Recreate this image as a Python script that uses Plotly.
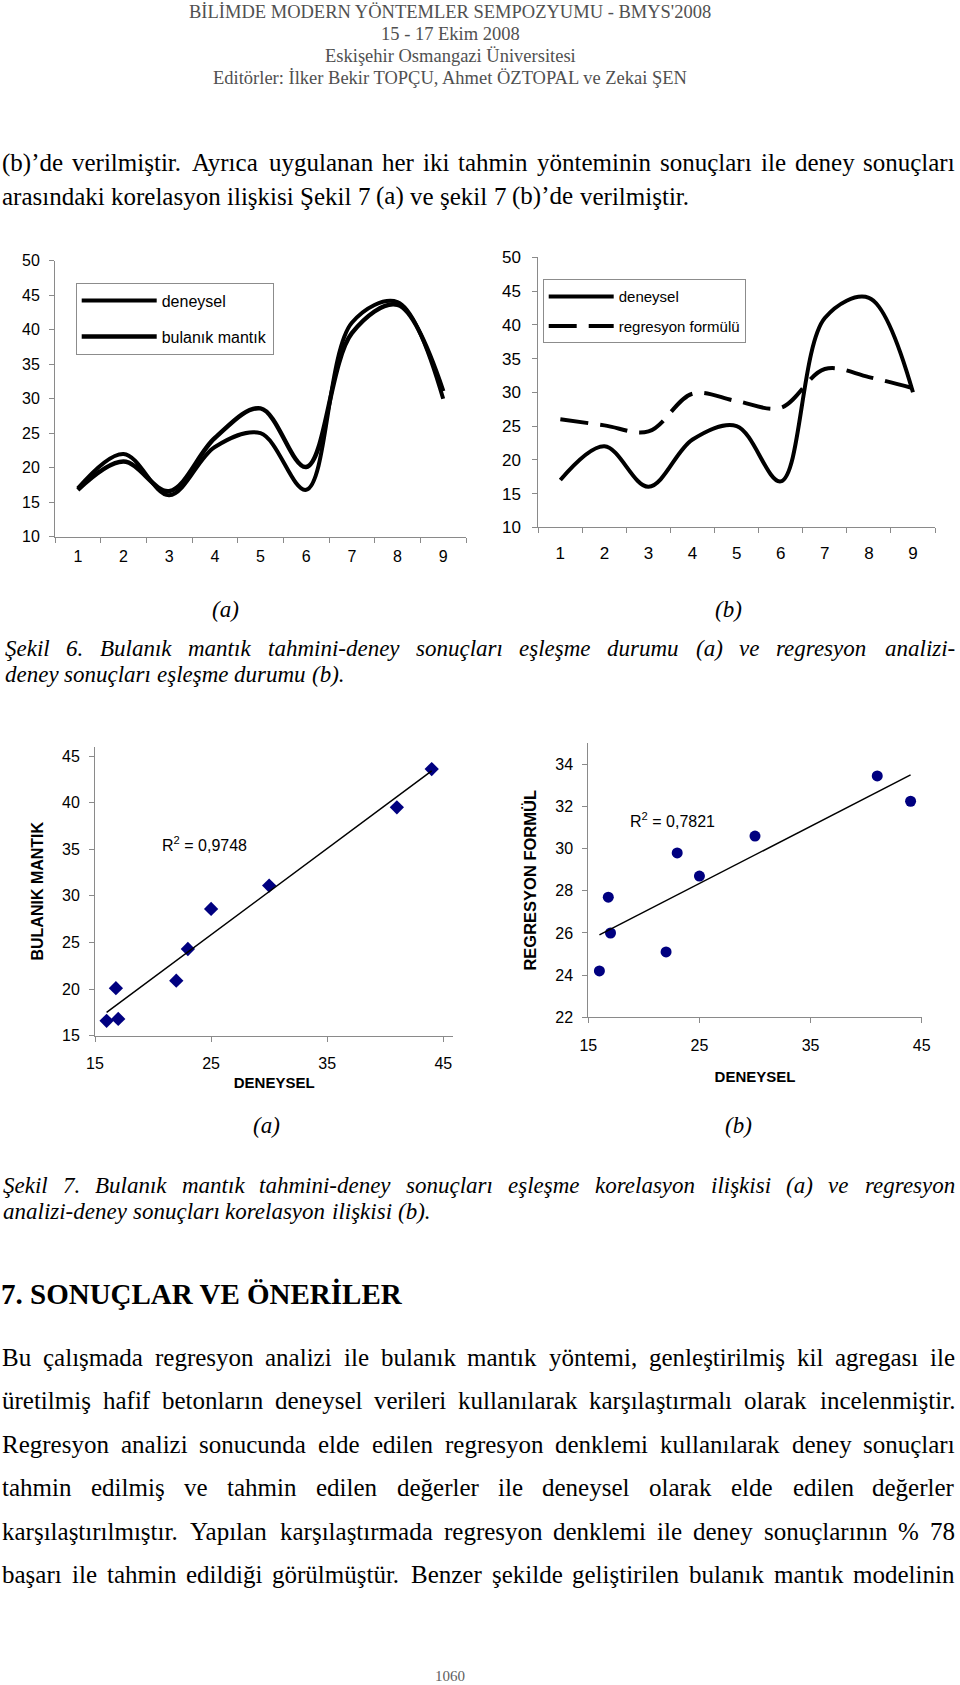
import numpy as np
import plotly.graph_objects as go

W, H = 960, 1685

# ---------------- data ----------------
categories = ["1", "2", "3", "4", "5", "6", "7", "8", "9"]
deneysel = [17, 22, 16, 23, 25, 16.8, 41, 44, 30]
bulanik_mantik = [16.8, 20.9, 16.6, 24.3, 28.6, 20.1, 39.5, 43.6, 31.1]
regresyon_formulu = [26.0, 25.1, 24.2, 29.8, 28.7, 27.7, 33.45, 32.25, 30.6]

r2_bulanik = "0,9748"
r2_regresyon = "0,7821"

line_y_ticks = [10, 15, 20, 25, 30, 35, 40, 45, 50]
scatter_a_x_ticks = [15, 25, 35, 45]
scatter_a_y_ticks = [15, 20, 25, 30, 35, 40, 45]
scatter_b_x_ticks = [15, 25, 35, 45]
scatter_b_y_ticks = [22, 24, 26, 28, 30, 32, 34]

# ---------------- page text ----------------
header_lines = [
    "BİLİMDE MODERN YÖNTEMLER SEMPOZYUMU - BMYS'2008",
    "15 - 17 Ekim 2008",
    "Eskişehir Osmangazi Üniversitesi",
    "Editörler: İlker Bekir TOPÇU, Ahmet ÖZTOPAL ve Zekai ŞEN",
]
intro_lines = [
    ("(b)’de verilmiştir. Ayrıca uygulanan her iki tahmin yönteminin sonuçları ile deney sonuçları", True),
    ("arasındaki korelasyon ilişkisi Şekil 7 (a) ve şekil 7 (b)’de verilmiştir.", False),
]
caption6_lines = [
    ("Şekil 6. Bulanık mantık tahmini-deney sonuçları eşleşme durumu (a) ve regresyon analizi-", True),
    ("deney sonuçları eşleşme durumu (b).", False),
]
caption7_lines = [
    ("Şekil 7. Bulanık mantık tahmini-deney sonuçları eşleşme korelasyon ilişkisi (a) ve regresyon", True),
    ("analizi-deney sonuçları korelasyon ilişkisi (b).", False),
]
heading = "7. SONUÇLAR VE ÖNERİLER"
body_lines = [
    ("Bu çalışmada regresyon analizi ile bulanık mantık yöntemi, genleştirilmiş kil agregası ile", True),
    ("üretilmiş hafif betonların deneysel verileri kullanılarak karşılaştırmalı olarak incelenmiştir.", True),
    ("Regresyon analizi sonucunda elde edilen regresyon denklemi kullanılarak deney sonuçları", True),
    ("tahmin edilmiş ve tahmin edilen değerler ile deneysel olarak elde edilen değerler", True),
    ("karşılaştırılmıştır. Yapılan karşılaştırmada regresyon denklemi ile deney sonuçlarının % 78", True),
    ("başarı ile tahmin edildiği görülmüştür. Benzer şekilde geliştirilen bulanık mantık modelinin", True),
]
page_number = "1060"

SERIF = "Liberation Serif"
SANS = "Liberation Sans"


def px(x):
    return x / W


def py(y):
    return 1 - y / H


# approximate Times metrics (per 1000 em) for justification
REG = dict(a=444, b=500, c=444, d=500, e=444, f=333, g=500, h=500, i=278, j=278, k=500, l=278,
           m=778, n=500, o=500, p=500, q=500, r=333, s=389, t=278, u=500, v=500, w=722, x=500,
           y=500, z=444)
REG.update({"ç": 444, "ş": 389, "ğ": 500, "ı": 278, "ö": 500, "ü": 500, "İ": 333, "Ş": 556,
            "Ç": 667, "Ö": 722, "Ü": 722, "A": 722, "B": 667, "C": 667, "D": 722, "E": 611,
            "F": 556, "G": 722, "H": 722, "I": 333, "K": 722, "L": 611, "M": 889, "N": 722,
            "O": 722, "P": 556, "R": 667, "S": 556, "T": 611, "U": 722, "V": 722, "Y": 722,
            "Z": 611, ".": 250, ",": 250, "(": 333, ")": 333, "-": 333, "’": 333, "%": 833})
ITA = dict(REG)
ITA.update(dict(a=500, f=278, k=444, m=722, r=389, v=444, y=444, z=389))
ITA.update({"Ş": 500, "B": 611})

annotations = []


def text_line(text, y, size, left, right, justify, italic=False, bold=False, color="black"):
    table = ITA if italic else REG
    words = text.split(" ")
    widths = [sum(table.get(c, 500) for c in w) / 1000 * size for w in words]
    if justify and len(words) > 1:
        gap = (right - left - sum(widths)) / (len(words) - 1)
    else:
        gap = 0.25 * size
    x = left
    n = len(words)
    for k, (w, wd) in enumerate(zip(words, widths)):
        t = w
        if italic:
            t = "<i>" + t + "</i>"
        if bold:
            t = "<b>" + t + "</b>"
        last = justify and k == n - 1 and n > 1
        annotations.append(dict(text=t, x=px(right if last else x), y=py(y), xref="paper", yref="paper",
                                xanchor="right" if last else "left", yanchor="middle", showarrow=False,
                                borderpad=0, borderwidth=0,
                                font=dict(family=SERIF, size=size, color=color)))
        x += wd + gap


def centered(text, x, y, size, family=SERIF, color="black", italic=False):
    t = "<i>" + text + "</i>" if italic else text
    annotations.append(dict(text=t, x=px(x), y=py(y), xref="paper", yref="paper",
                            xanchor="center", yanchor="middle", showarrow=False,
                            font=dict(family=family, size=size, color=color)))


# header
for i, line in enumerate(header_lines):
    centered(line, 450, 12 + i * 22, 18.5, color="#505050")

LEFT, RIGHT = 2, 955
for i, (line, j) in enumerate(intro_lines):
    text_line(line, 163 + i * 33, 25, LEFT, RIGHT, j)

centered("(a)", 225, 609.5, 23, italic=True)
centered("(b)", 728, 609.5, 23, italic=True)
for i, (line, j) in enumerate(caption6_lines):
    text_line(line, 648 + i * 26, 23, 5, RIGHT, j, italic=True)

centered("(a)", 266, 1125, 23, italic=True)
centered("(b)", 738, 1125, 23, italic=True)
for i, (line, j) in enumerate(caption7_lines):
    text_line(line, 1185 + i * 26, 23, 3, RIGHT, j, italic=True)

annotations.append(dict(text="<b>" + heading + "</b>", x=px(1), y=py(1294), xref="paper", yref="paper",
                        xanchor="left", yanchor="middle", showarrow=False, borderpad=0, borderwidth=0,
                        font=dict(family=SERIF, size=29, color="black")))

for i, (line, j) in enumerate(body_lines):
    text_line(line, 1357 + i * 43.5, 25, LEFT, RIGHT, j)

centered(page_number, 450, 1676, 15, color="#606060")

# R² labels
annotations.append(dict(text="R<sup>2</sup> = " + r2_bulanik, x=px(160), y=py(844), xref="paper", yref="paper",
                        xanchor="left", yanchor="middle", showarrow=False,
                        font=dict(family=SANS, size=16, color="black")))
annotations.append(dict(text="R<sup>2</sup> = " + r2_regresyon, x=px(628), y=py(820), xref="paper", yref="paper",
                        xanchor="left", yanchor="middle", showarrow=False,
                        font=dict(family=SANS, size=16, color="black")))

# ---------------- traces ----------------
fig = go.Figure()

# chart 6(a)
fig.add_trace(go.Scatter(x=categories, y=deneysel, mode="lines", name="deneysel",
                         line=dict(color="black", width=4, shape="spline"),
                         xaxis="x", yaxis="y", legend="legend", legendgroup="a1"))
fig.add_trace(go.Scatter(x=categories, y=bulanik_mantik, mode="lines", name="bulanık mantık",
                         line=dict(color="black", width=4.5, shape="spline"),
                         xaxis="x", yaxis="y", legend="legend", legendgroup="a2"))
# chart 6(b)
fig.add_trace(go.Scatter(x=categories, y=deneysel, mode="lines", name="deneysel",
                         line=dict(color="black", width=4, shape="spline"),
                         xaxis="x2", yaxis="y2", legend="legend2", legendgroup="b1"))
fig.add_trace(go.Scatter(x=categories, y=regresyon_formulu, mode="lines", name="regresyon formülü",
                         line=dict(color="black", width=4, shape="spline", dash="28px,12px"),
                         xaxis="x2", yaxis="y2", legend="legend2", legendgroup="b2"))

# chart 7(a)
fig.add_trace(go.Scatter(x=deneysel, y=bulanik_mantik, mode="markers", showlegend=False,
                         marker=dict(symbol="diamond", size=11, color="#000080"),
                         xaxis="x3", yaxis="y3"))
ca = np.polyfit(deneysel, bulanik_mantik, 1)
xa = np.array([min(deneysel), max(deneysel)])
fig.add_trace(go.Scatter(x=xa, y=np.polyval(ca, xa), mode="lines", showlegend=False,
                         line=dict(color="black", width=1.5), xaxis="x3", yaxis="y3"))

# chart 7(b)
fig.add_trace(go.Scatter(x=deneysel, y=regresyon_formulu, mode="markers", showlegend=False,
                         marker=dict(symbol="circle", size=11, color="#000080"),
                         xaxis="x4", yaxis="y4"))
cb = np.polyfit(deneysel, regresyon_formulu, 1)
fig.add_trace(go.Scatter(x=xa, y=np.polyval(cb, xa), mode="lines", showlegend=False,
                         line=dict(color="black", width=1.5), xaxis="x4", yaxis="y4"))

AX = "#8a8a8a"


def cat_axis(x0, x1, y_anchor, size, standoff):
    return dict(domain=[px(x0), px(x1)], anchor=y_anchor, type="category", range=[-0.5, 8.5],
                tickson="boundaries", ticks="outside", ticklen=5, tickcolor=AX,
                showline=True, linecolor=AX, linewidth=1, showgrid=False, zeroline=False,
                tickfont=dict(family=SANS, size=size, color="black"), ticklabelstandoff=standoff,
                automargin=False, fixedrange=True)


def val_axis(y0, y1, x_anchor, rng, tickvals, size, standoff, title=None, title_standoff=0,
             title_size=16):
    d = dict(domain=[py(y1), py(y0)], anchor=x_anchor, range=rng, tickvals=tickvals,
             ticks="outside", ticklen=5, tickcolor=AX, showline=True, linecolor=AX, linewidth=1,
             showgrid=False, zeroline=False, tickfont=dict(family=SANS, size=size, color="black"),
             ticklabelstandoff=standoff, automargin=False, fixedrange=True)
    if title:
        d["title"] = dict(text="<b>" + title + "</b>", standoff=title_standoff,
                          font=dict(family=SANS, size=title_size, color="black"))
    return d


layout = dict(
    width=W, height=H, margin=dict(l=0, r=0, t=0, b=0),
    paper_bgcolor="white", plot_bgcolor="white", template="none",
    annotations=annotations,
    xaxis=cat_axis(55, 466, "y", 16, 5),
    yaxis=val_axis(260.7, 536.7, "x", [10, 50], line_y_ticks, 16, 6),
    xaxis2=cat_axis(538.3, 935, "y2", 17, 10),
    yaxis2=val_axis(257.3, 527.3, "x2", [10, 50], line_y_ticks, 17, 8),
    xaxis3=val_axis(0, 0, "y3", [15, 45.86], scatter_a_x_ticks, 16, 8, "DENEYSEL", 6, 15),
    yaxis3=val_axis(746.7, 1035.7, "x3", [15, 46], scatter_a_y_ticks, 16, 6,
                    "BULANIK MANTIK", 14, 16),
    xaxis4=val_axis(0, 0, "y4", [15, 45], scatter_b_x_ticks, 16, 8, "DENEYSEL", 18, 15),
    yaxis4=val_axis(743.3, 1017.3, "x4", [22, 35], scatter_b_y_ticks, 16, 6,
                    "REGRESYON FORMÜL", 14, 16.5),
    legend=dict(x=px(75.7), y=py(282.7), xanchor="left", yanchor="top", bordercolor="#8c8c8c",
                borderwidth=1, bgcolor="white", itemwidth=75, tracegroupgap=12,
                font=dict(family=SANS, size=16, color="black")),
    legend2=dict(x=px(542.7), y=py(279.3), xanchor="left", yanchor="top", bordercolor="#8c8c8c",
                 borderwidth=1, bgcolor="white", itemwidth=65, tracegroupgap=7,
                 font=dict(family=SANS, size=15, color="black")),
    showlegend=True,
)
layout["xaxis3"]["domain"] = [px(95), px(453.3)]
layout["xaxis4"]["domain"] = [px(588.3), px(921.7)]

fig.update_layout(**layout)
fig.write_html("out.html",
               config={"displayModeBar": False, "staticPlot": True},
               post_script="document.documentElement.style.margin='0';document.body.style.margin='0';"
                           "document.body.style.overflow='hidden';")
